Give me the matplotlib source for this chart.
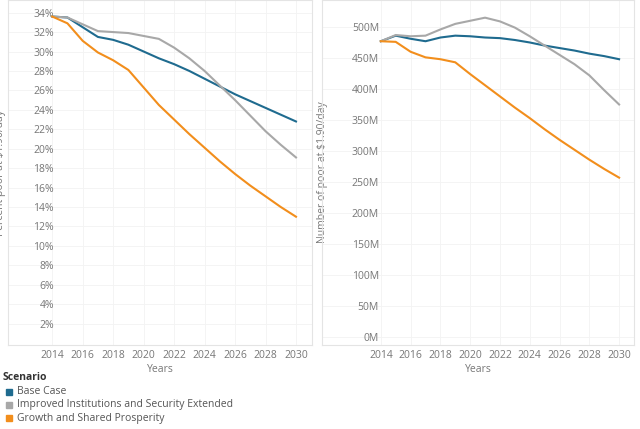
import matplotlib
matplotlib.use("Agg")
import matplotlib.pyplot as plt
from matplotlib.ticker import FuncFormatter
from matplotlib.patches import Rectangle

years = list(range(2014, 2031))
pct_base = [33.6, 33.5, 32.5, 31.5, 31.2, 30.7, 30.0, 29.3, 28.7, 28.0, 27.2, 26.4, 25.6, 24.9, 24.2, 23.5, 22.8]
pct_inst = [33.6, 33.5, 32.8, 32.1, 32.0, 31.9, 31.6, 31.3, 30.4, 29.3, 28.0, 26.5, 25.0, 23.4, 21.8, 20.4, 19.1]
pct_grow = [33.6, 32.9, 31.1, 29.9, 29.1, 28.1, 26.3, 24.5, 23.0, 21.5, 20.1, 18.7, 17.4, 16.2, 15.1, 14.0, 13.0]
num_base = [477, 486, 481, 477, 483, 486, 485, 483, 482, 479, 475, 470, 466, 462, 457, 453, 448]
num_inst = [477, 487, 485, 486, 496, 505, 510, 515, 509, 499, 485, 470, 455, 440, 422, 398, 375]
num_grow = [477, 476, 460, 451, 448, 443, 424, 406, 388, 370, 353, 335, 318, 302, 286, 271, 257]
names = ["Base Case", "Improved Institutions and Security Extended", "Growth and Shared Prosperity"]
colors = ["#1f6b8f", "#a8a8a8", "#f28e1c"]

W, H = 640, 429
fig = plt.figure(figsize=(6.4, 4.29), dpi=100)
plt.rcParams['font.family'] = ['Open Sans', 'DejaVu Sans']
tc = "#777777"

def mk(x0, x1):
    return fig.add_axes([x0 / W, 1 - 345 / H, (x1 - x0) / W, 345 / H])

ax1 = mk(8, 312)
ax2 = mk(322, 634)
for ax, data, xl in ((ax1, (pct_base, pct_inst, pct_grow), (2011.1, 2031.05)),
                     (ax2, (num_base, num_inst, num_grow), (2010.05, 2031.0))):
    for d, c in zip(data, colors):
        ax.plot(years, d, color=c, lw=1.5)
    ax.set_xlim(*xl)
    ax.set_xticks(range(2014, 2031, 2))
    for s in ax.spines.values():
        s.set_color("#e4e4e4")
    ax.grid(True, color="#f3f3f3", lw=0.6)
    ax.tick_params(length=0, labelsize=7.5, colors=tc)
    ax.set_xlabel("Years", fontsize=7.5, color=tc, labelpad=2)

ax1.set_ylim(-0.2, 35.3)
ax1.set_yticks(range(2, 35, 2))
ax1.yaxis.set_major_formatter(FuncFormatter(lambda v, p: f"{int(v)}%"))
ax1.tick_params(axis='y', pad=-33)
ax1.set_ylabel("Percent poor at $1.90/day", fontsize=7.5, color=tc)
ax1.yaxis.set_label_coords(-0.005, 0.5)

ax2.set_ylim(-12.9, 543.5)
ax2.set_yticks(range(0, 501, 50))
ax2.yaxis.set_major_formatter(FuncFormatter(lambda v, p: f"{int(v)}M"))
ax2.tick_params(axis='y', pad=-41)
ax2.set_ylabel("Number of poor at $1.90/day", fontsize=7.5, color=tc)
ax2.yaxis.set_label_coords(0.02, 0.5)

fig.text(3 / W, 1 - 378 / H, "Scenario", fontsize=7.5, color="#333333", va="center", weight="bold")
for i, (n, c) in enumerate(zip(names, colors)):
    y = 392 + 13 * i
    fig.patches.append(Rectangle((6 / W, 1 - (y + 3) / H), 6 / W, 6 / H, color=c, transform=fig.transFigure))
    fig.text(17 / W, 1 - y / H, n, fontsize=7.5, color="#555555", va="center")

fig.savefig("out.png", dpi=100)
